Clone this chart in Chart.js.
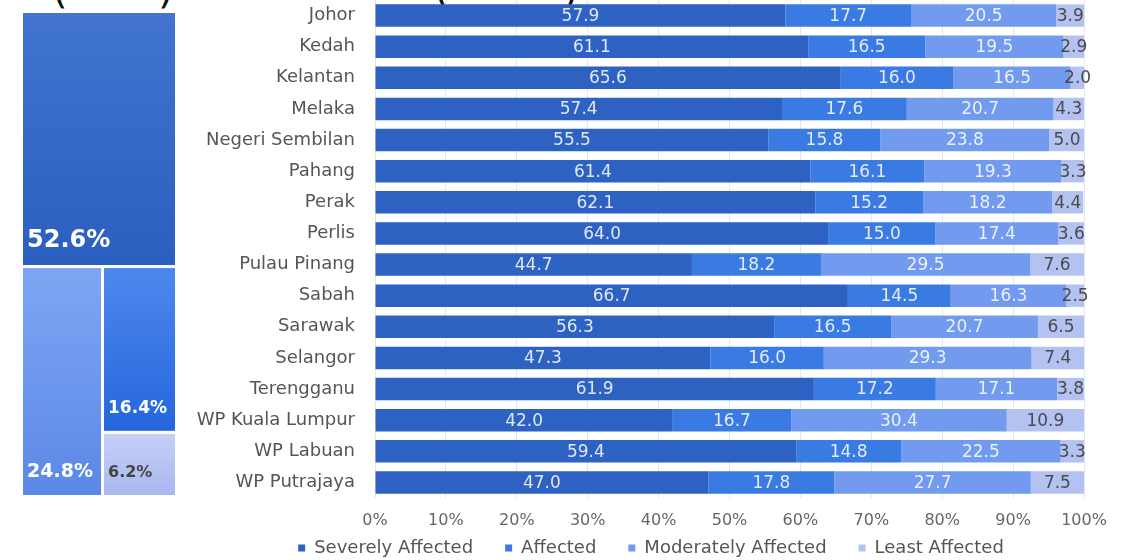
<!DOCTYPE html>
<html lang="en">
<head>
  <meta charset="UTF-8" />
  <title>Impact by State</title>
  <script src="https://cdn.jsdelivr.net/npm/chart.js"></script>
  <style>
    body { margin: 0; width: 1122px; height: 560px; background: #fff; overflow: hidden; position: relative; font-family: 'DejaVu Sans', sans-serif; }
    .cut { position: absolute; top: -31px; font-size: 40px; line-height: 40px; color: #111; }
    #treeWrap { position: absolute; left: 0; top: 0; width: 190px; height: 560px; }
    #barWrap { position: absolute; left: 180px; top: 0; width: 942px; height: 560px; }
  </style>
</head>
<body>
  <span class="cut" style="left:52px">(</span>
  <span class="cut" style="left:158px">)</span>
  <span class="cut" style="left:434px">(</span>
  <span class="cut" style="left:563px">)</span>

  <div id="treeWrap"><canvas id="treeChart"></canvas></div>
  <div id="barWrap"><canvas id="barChart"></canvas></div>

  <script>
    // data
    const states = ['Johor', 'Kedah', 'Kelantan', 'Melaka', 'Negeri Sembilan', 'Pahang', 'Perak', 'Perlis',
      'Pulau Pinang', 'Sabah', 'Sarawak', 'Selangor', 'Terengganu', 'WP Kuala Lumpur', 'WP Labuan', 'WP Putrajaya'];
    const severely   = [57.9, 61.1, 65.6, 57.4, 55.5, 61.4, 62.1, 64.0, 44.7, 66.7, 56.3, 47.3, 61.9, 42.0, 59.4, 47.0];
    const affected   = [17.7, 16.5, 16.0, 17.6, 15.8, 16.1, 15.2, 15.0, 18.2, 14.5, 16.5, 16.0, 17.2, 16.7, 14.8, 17.8];
    const moderately = [20.5, 19.5, 16.5, 20.7, 23.8, 19.3, 18.2, 17.4, 29.5, 16.3, 20.7, 29.3, 17.1, 30.4, 22.5, 27.7];
    const least      = [3.9, 2.9, 2.0, 4.3, 5.0, 3.3, 4.4, 3.6, 7.6, 2.5, 6.5, 7.4, 3.8, 10.9, 3.3, 7.5];
    const xTicks = [0, 10, 20, 30, 40, 50, 60, 70, 80, 90, 100];

    // overall share (treemap)
    const treeLabels = ['Severely Affected', 'Moderately Affected', 'Affected', 'Least Affected'];
    const treeValues = [52.6, 24.8, 16.4, 6.2];

    const colors = {
      severely: '#2d62c2',
      affected: '#3a7be3',
      moderately: '#729bf0',
      least: '#b4c2f2'
    };
    const font = '"DejaVu Sans", sans-serif';

    // bar value labels
    const valueLabels = {
      id: 'valueLabels',
      afterDatasetsDraw(chart) {
        const ctx = chart.ctx;
        ctx.save();
        ctx.font = '17px ' + font;
        ctx.textAlign = 'center';
        ctx.textBaseline = 'middle';
        chart.data.datasets.forEach((ds, i) => {
          chart.getDatasetMeta(i).data.forEach((bar, j) => {
            const cx = (bar.x + bar.base) / 2;
            ctx.fillStyle = i === 3 ? '#4a4a4a' : 'rgba(255,255,255,0.85)';
            ctx.fillText(ds.data[j].toFixed(1), cx, bar.y + 1);
          });
        });
        ctx.restore();
      }
    };

    // legend sits closer to the axis than its item spacing would allow,
    // and is centred on the whole canvas
    const legendNudge = {
      id: 'legendNudge',
      afterLayout(chart) {
        const lg = chart.legend;
        lg.top = 507;
        lg.bottom = 560;
        lg.height = 53;
        lg.left = 0;
        lg.right = chart.width;
        lg.width = chart.width;
      }
    };

    new Chart(document.getElementById('barChart'), {
      type: 'bar',
      data: {
        labels: states,
        datasets: [
          { label: 'Severely Affected', data: severely, backgroundColor: colors.severely },
          { label: 'Affected', data: affected, backgroundColor: colors.affected },
          { label: 'Moderately Affected', data: moderately, backgroundColor: colors.moderately },
          { label: 'Least Affected', data: least, backgroundColor: colors.least }
        ]
      },
      options: {
        indexAxis: 'y',
        responsive: true,
        maintainAspectRatio: false,
        animation: false,
        categoryPercentage: 1,
        barPercentage: 0.72,
        layout: { padding: { top: 0, right: 38, bottom: 0, left: 0 } },
        plugins: {
          legend: {
            position: 'bottom',
            maxHeight: 28,
            labels: {
              usePointStyle: true,
              pointStyle: 'rect',
              boxWidth: 7,
              boxHeight: 7,
              padding: 32,
              color: '#555',
              font: { size: 18, family: font }
            }
          },
          tooltip: { enabled: false }
        },
        scales: {
          x: {
            stacked: true,
            min: 0,
            max: 100,
            afterBuildTicks(scale) { scale.ticks = xTicks.map(v => ({ value: v })); },
            afterFit(scale) { scale.height = 34; },
            ticks: {
              callback: v => v + '%',
              color: '#666',
              padding: 13,
              font: { size: 16, family: font }
            },
            grid: { color: '#e3e7ef', drawTicks: false },
            border: { display: false }
          },
          y: {
            stacked: true,
            afterFit(scale) {
              scale.width = 195;
              scale.paddingTop = 0;
              scale.paddingBottom = 0;
            },
            ticks: {
              color: '#555',
              padding: 12,
              font: { size: 18, family: font }
            },
            grid: { display: false },
            border: { display: false }
          }
        }
      },
      plugins: [valueLabels, legendNudge]
    });

    // treemap cells laid out from the values, drawn on the chart's own scales
    const treeColors = [
      ['#4274d0', '#2a5fc0'],
      ['#7fa6f4', '#5b88e6'],
      ['#4d88ec', '#2566de'],
      ['#c6d0f8', '#a8b7ef']
    ];
    const treeText = [
      { color: '#fff', size: 24 },
      { color: '#fff', size: 19 },
      { color: '#fff', size: 17 },
      { color: '#444', size: 16 }
    ];

    function treeLayout(vals) {
      const total = vals.reduce((a, b) => a + b, 0);
      const h0 = vals[0] / total;
      const rest = total - vals[0];
      const wLeft = vals[1] / rest;
      const hR = vals[2] / (vals[2] + vals[3]);
      return [
        { x0: 0, x1: 1, y0: 0, y1: h0 },
        { x0: 0, x1: wLeft, y0: h0, y1: 1 },
        { x0: wLeft, x1: 1, y0: h0, y1: h0 + (1 - h0) * hR },
        { x0: wLeft, x1: 1, y0: h0 + (1 - h0) * hR, y1: 1 }
      ];
    }

    const treeCells = {
      id: 'treeCells',
      afterDatasetsDraw(chart) {
        const { ctx, scales: { x, y } } = chart;
        const cells = treeLayout(treeValues);
        ctx.save();
        cells.forEach((c, i) => {
          const left = x.getPixelForValue(c.x0) + (c.x0 > 0 ? 1.5 : 0);
          const right = x.getPixelForValue(c.x1) - (c.x1 < 1 ? 1.5 : 0);
          const top = y.getPixelForValue(c.y0) + (c.y0 > 0 ? 1.5 : 0);
          const bottom = y.getPixelForValue(c.y1) - (c.y1 < 1 ? 1.5 : 0);
          const g = ctx.createLinearGradient(0, top, 0, bottom);
          g.addColorStop(0, treeColors[i][0]);
          g.addColorStop(1, treeColors[i][1]);
          ctx.fillStyle = g;
          ctx.fillRect(left, top, right - left, bottom - top);
          ctx.font = 'bold ' + treeText[i].size + 'px ' + font;
          ctx.fillStyle = treeText[i].color;
          ctx.textAlign = 'left';
          ctx.textBaseline = 'alphabetic';
          ctx.fillText(treeValues[i].toFixed(1) + '%', left + 4, bottom - 18);
        });
        ctx.restore();
      }
    };

    new Chart(document.getElementById('treeChart'), {
      type: 'scatter',
      data: { datasets: [{ label: 'share', data: [], pointRadius: 0 }] },
      options: {
        responsive: true,
        maintainAspectRatio: false,
        animation: false,
        layout: { padding: { left: 23, right: 15, top: 13, bottom: 65 } },
        plugins: { legend: { display: false }, tooltip: { enabled: false } },
        scales: {
          x: { type: 'linear', min: 0, max: 1, display: false },
          y: { type: 'linear', min: 0, max: 1, reverse: true, display: false }
        }
      },
      plugins: [treeCells]
    });
  </script>
</body>
</html>
